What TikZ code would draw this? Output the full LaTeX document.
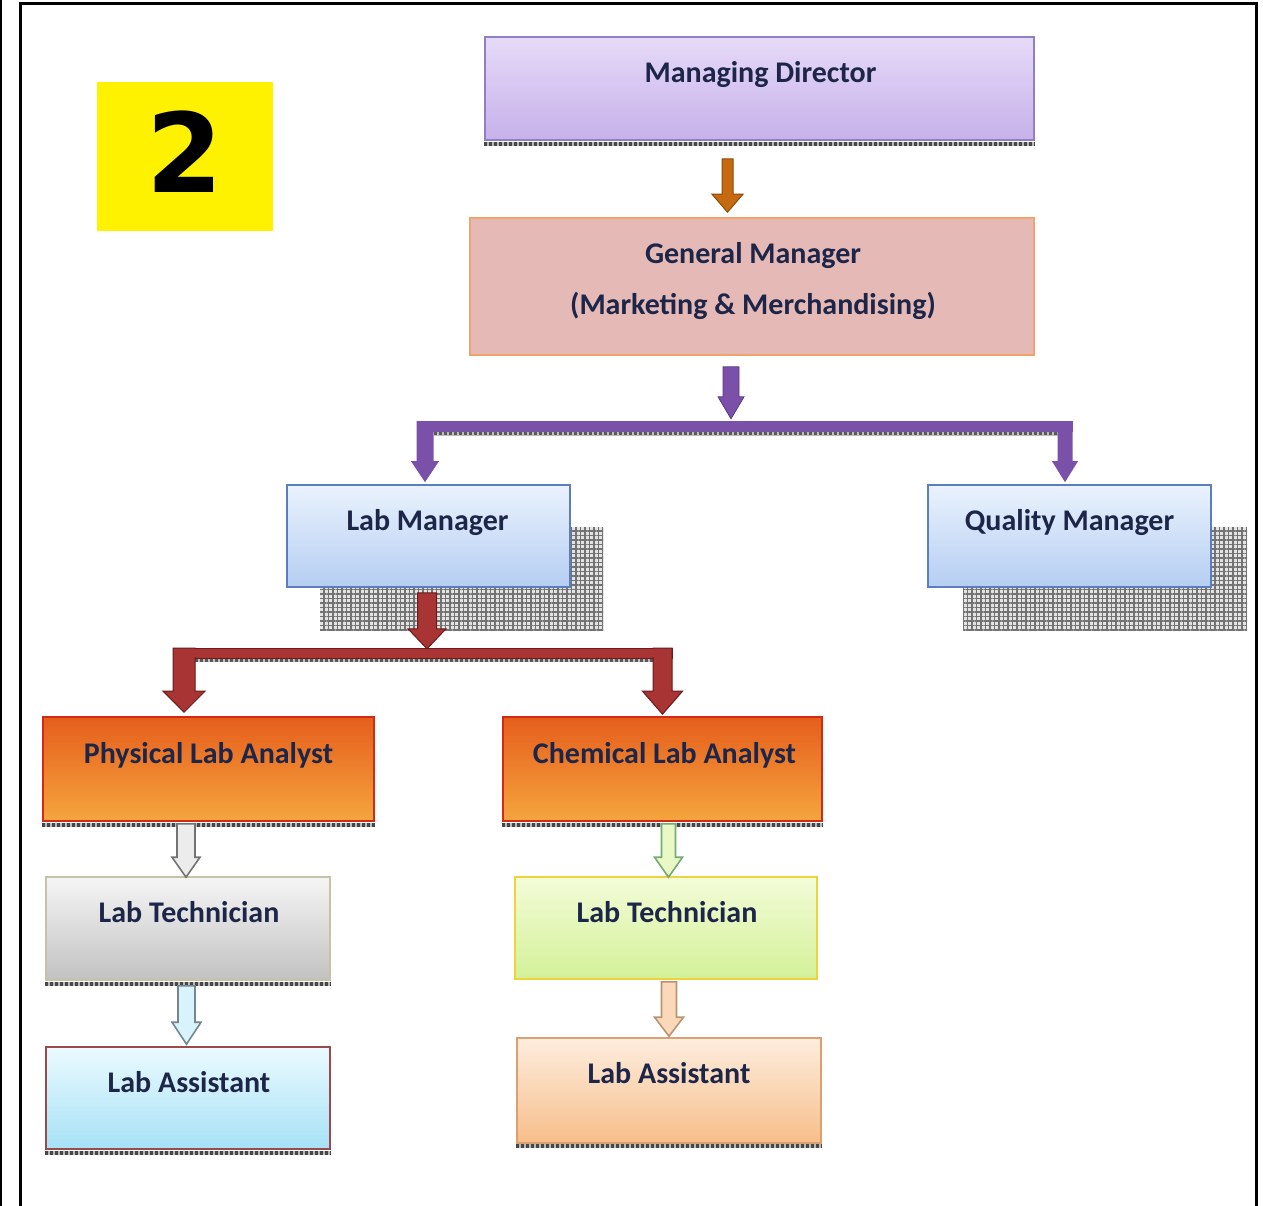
\documentclass[tikz,border=0pt]{standalone}
\usepackage{fontspec}
\setmainfont{Carlito}
\newfontfamily\numfont{DejaVu Sans}
\usetikzlibrary{calc,patterns.meta}
\definecolor{txt}{HTML}{1D2648}
\definecolor{mdtop}{HTML}{E6DAF8}\definecolor{mdbot}{HTML}{C7B1EA}\definecolor{mdln}{HTML}{8E80C4}
\definecolor{gmfill}{HTML}{E5B9B5}\definecolor{gmln}{HTML}{F0A46C}
\definecolor{lmtop}{HTML}{EAF2FD}\definecolor{lmbot}{HTML}{B5CEF3}\definecolor{lmln}{HTML}{5B7FBD}
\definecolor{antop}{HTML}{E55E1C}\definecolor{anbot}{HTML}{F5A53E}\definecolor{anln}{HTML}{D22A14}
\definecolor{gytop}{HTML}{F5F5F5}\definecolor{gybot}{HTML}{C2C2C2}\definecolor{gyln}{HTML}{C6C2A8}
\definecolor{cytop}{HTML}{EBFAFF}\definecolor{cybot}{HTML}{A6E1F6}\definecolor{cyln}{HTML}{9A4A4A}
\definecolor{grtop}{HTML}{F3FCD8}\definecolor{grbot}{HTML}{D3F198}\definecolor{grln}{HTML}{EED43A}
\definecolor{pctop}{HTML}{FDEDDE}\definecolor{pcbot}{HTML}{F7BE8A}\definecolor{pcln}{HTML}{DCA070}
\definecolor{orarr}{HTML}{C66A12}\definecolor{orarrln}{HTML}{8B4A0C}
\definecolor{puarr}{HTML}{7A50A8}\definecolor{puarrln}{HTML}{5A3888}
\definecolor{rdarr}{HTML}{A83434}\definecolor{rdarrln}{HTML}{6A1A1A}
\newcommand\blockarr[6]{%
  \path[#1] let \p1=(#2), \p2=(#3) in
   (\x1-#4,\y1) -- (\x1+#4,\y1) -- (\x1+#4,\y2+#6) -- (\x1+#5,\y2+#6) -- (\x1,\y2)
   -- (\x1-#5,\y2+#6) -- (\x1-#4,\y2+#6) -- cycle;}
\newcommand\hatchline[2]{%
  \draw[line width=4.5pt, gray!55] #1 -- #2;
  \draw[line width=3.5pt, black!72, dash pattern=on 3pt off 2pt] #1 -- #2;}
\begin{document}
\begin{tikzpicture}[x=1pt,y=-1pt,
  box/.style={inner sep=0pt, anchor=center, line width=1.6pt},
  lbl/.style={inner sep=0pt, anchor=base, text=txt, font=\fontsize{30}{51}\selectfont\bfseries, align=center},
  shadowbox/.style={fill=gray!22, postaction={pattern={Lines[distance=4.5pt,angle=0,line width=1.5pt]}, pattern color=black!55},
     postaction={pattern={Lines[distance=4.5pt,angle=90,line width=1.5pt]}, pattern color=black!55}}]
\useasboundingbox (0,0) rectangle (1263,1206);
\fill[white] (0,0) rectangle (1263,1206);
% frame
\draw[line width=2pt] (1,0) -- (1,1206);
\draw[line width=3pt] (20,1206) -- (20,4) -- (1256,4) -- (1256,1206);
% number badge
\node[fill=yellow, minimum width=176pt, minimum height=149pt, inner sep=0pt] (badge) at (185,156.5) {};
\node[inner sep=0pt, anchor=base, font=\numfont\bfseries\fontsize{110}{110}\selectfont] (badgetxt) at (185,193) {2};

% shadows
\path[shadowbox] (320,527) rectangle (603,630);
\path[shadowbox] (963,527) rectangle (1247,630);

% boxes
\node[box, minimum width=549pt, minimum height=103pt, top color=mdtop, bottom color=mdbot, draw=mdln] (md) at (759.5,88.5) {};
\node[box, minimum width=564pt, minimum height=137pt, fill=gmfill, draw=gmln] (gm) at (752,286.5) {};
\node[box, minimum width=283pt, minimum height=102pt, top color=lmtop, bottom color=lmbot, draw=lmln] (lm) at (428.5,536) {};
\node[box, minimum width=283pt, minimum height=102pt, top color=lmtop, bottom color=lmbot, draw=lmln] (qm) at (1069.5,536) {};
\node[box, minimum width=331pt, minimum height=104pt, top color=antop, bottom color=anbot, draw=anln] (pla) at (208.5,769) {};
\node[box, minimum width=319pt, minimum height=104pt, top color=antop, bottom color=anbot, draw=anln] (cla) at (662.5,769) {};
\node[box, minimum width=284pt, minimum height=103pt, top color=gytop, bottom color=gybot, draw=gyln] (lt1) at (188,928.5) {};
\node[box, minimum width=302pt, minimum height=102pt, top color=grtop, bottom color=grbot, draw=grln] (lt2) at (666,928) {};
\node[box, minimum width=284pt, minimum height=102pt, top color=cytop, bottom color=cybot, draw=cyln] (la1) at (188,1098) {};
\node[box, minimum width=304pt, minimum height=105pt, top color=pctop, bottom color=pcbot, draw=pcln] (la2) at (669,1090.5) {};

% hatched bottom edges
\hatchline{($(md.south west)+(0,3)$)}{($(md.south east)+(0,3)$)}
\hatchline{($(pla.south west)+(0,3)$)}{($(pla.south east)+(0,3)$)}
\hatchline{($(cla.south west)+(0,3)$)}{($(cla.south east)+(0,3)$)}
\hatchline{($(lt1.south west)+(0,3)$)}{($(lt1.south east)+(0,3)$)}
\hatchline{($(la1.south west)+(0,3)$)}{($(la1.south east)+(0,3)$)}
\hatchline{($(la2.south west)+(0,2)$)}{($(la2.south east)+(0,2)$)}

% labels
\node[lbl] (mdt) at ($(md.north)+(1,46)$) {Managing Director};
\node[lbl] (gmt1) at ($(gm.north)+(1,46)$) {General Manager};
\node[lbl] (gmt2) at ($(gm.north)+(1,97)$) {(Marketing \& Merchandising)};
\node[lbl] (lmt) at ($(lm.north)+(-1,46)$) {Lab Manager};
\node[lbl] (qmt) at ($(qm.north)+(0,46)$) {Quality Manager};
\node[lbl] (plat) at ($(pla.north)+(0,47)$) {Physical Lab Analyst};
\node[lbl] (clat) at ($(cla.north)+(2,47)$) {Chemical Lab Analyst};
\node[lbl] (lt1t) at ($(lt1.north)+(1,46)$) {Lab Technician};
\node[lbl] (lt2t) at ($(lt2.north)+(1,46)$) {Lab Technician};
\node[lbl] (la1t) at ($(la1.north)+(1,46)$) {Lab Assistant};
\node[lbl] (la2t) at ($(la2.north)+(0,46)$) {Lab Assistant};

% MD -> GM
\coordinate (o1) at ($(md.south)+(-32,18)$);
\coordinate (o2) at ($(gm.north)+(-25,-5)$);
\blockarr{fill=orarr, draw=orarrln, line width=1pt}{o1}{o2}{5.5pt}{15.5pt}{18pt}

% GM -> LM, QM (purple T)
\coordinate (p1) at ($(gm.south)+(-21,11)$);
\coordinate (p2) at ($(gm.south)+(-21,63)$);
\coordinate (pl) at ($(lm.north)+(-3.5,-63)$);
\coordinate (plb) at ($(lm.north)+(-3.5,-2)$);
\coordinate (pr) at ($(qm.north)+(-4.5,-63)$);
\coordinate (prb) at ($(qm.north)+(-4.5,-2)$);
\draw[line width=4pt, gray!50] ($(pl)+(8.5,12.5)$) -- ($(pr)+(-7.5,12.5)$);
\draw[line width=3pt, black!65, dash pattern=on 3pt off 2pt] ($(pl)+(8.5,12.5)$) -- ($(pr)+(-7.5,12.5)$);
\fill[puarr] ($(pl)+(-8.5,0)$) rectangle ($(pr)+(7.5,11)$);
\blockarr{fill=puarr}{pl}{plb}{8.5pt}{14pt}{21pt}
\blockarr{fill=puarr}{pr}{prb}{7.5pt}{13pt}{21pt}
\blockarr{fill=puarr, draw=puarrln, line width=0.8pt}{p1}{p2}{8pt}{13pt}{22pt}

% LM -> PLA, CLA (red T)
\coordinate (r1) at ($(lm.south)+(-1.5,5)$);
\coordinate (r2) at ($(lm.south)+(-1.5,61)$);
\coordinate (rl) at ($(pla.north)+(-24.5,-68)$);
\coordinate (rlb) at ($(pla.north)+(-24.5,-4)$);
\coordinate (rr) at ($(cla.north)+(0,-68)$);
\coordinate (rrb) at ($(cla.north)+(0,-2)$);
\draw[line width=4pt, gray!50] ($(rl)+(11,12)$) -- ($(rr)+(-9.5,12)$);
\draw[line width=3pt, black!65, dash pattern=on 3pt off 2pt] ($(rl)+(11,12)$) -- ($(rr)+(-9.5,12)$);
\filldraw[fill=rdarr, draw=rdarrln, line width=1pt] ($(rl)+(-11,0)$) rectangle ($(rr)+(9.5,10)$);
\blockarr{fill=rdarr, draw=rdarrln, line width=1pt}{rl}{rlb}{11pt}{21pt}{21pt}
\blockarr{fill=rdarr, draw=rdarrln, line width=1pt}{rr}{rrb}{9.5pt}{20pt}{23pt}
\fill[rdarr] ($(rl)+(-10,1)$) rectangle ($(rr)+(8.5,9)$);
\blockarr{fill=rdarr, draw=rdarrln, line width=1pt}{r1}{r2}{9.5pt}{19pt}{20pt}

% PLA -> LT1 -> LA1
\coordinate (g1) at ($(pla.south)+(-22.5,2)$);
\coordinate (g2) at ($(lt1.north)+(-2,1)$);
\blockarr{fill=gray!15, draw=gray!90!black, line width=1.6pt}{g1}{g2}{9pt}{14pt}{20pt}
\coordinate (b1) at ($(lt1.south)+(-1.5,5)$);
\coordinate (b2) at ($(la1.north)+(-1.5,-2)$);
\blockarr{fill=cyan!15, draw=cyan!30!black!70, line width=1.6pt}{b1}{b2}{8.5pt}{14.5pt}{22pt}

% CLA -> LT2 -> LA2
\coordinate (n1) at ($(cla.south)+(6,2)$);
\coordinate (n2) at ($(lt2.north)+(2,1)$);
\blockarr{fill=grtop!70!grbot, draw=green!40!black!55, line width=1.6pt}{n1}{n2}{7pt}{14pt}{20pt}
\coordinate (c1) at ($(lt2.south)+(3,2)$);
\coordinate (c2) at ($(la2.north)+(0,-1)$);
\blockarr{fill=pcbot!60!white, draw=brown!80!black!70, line width=1.6pt}{c1}{c2}{7.5pt}{14.5pt}{19pt}
\end{tikzpicture}
\end{document}
